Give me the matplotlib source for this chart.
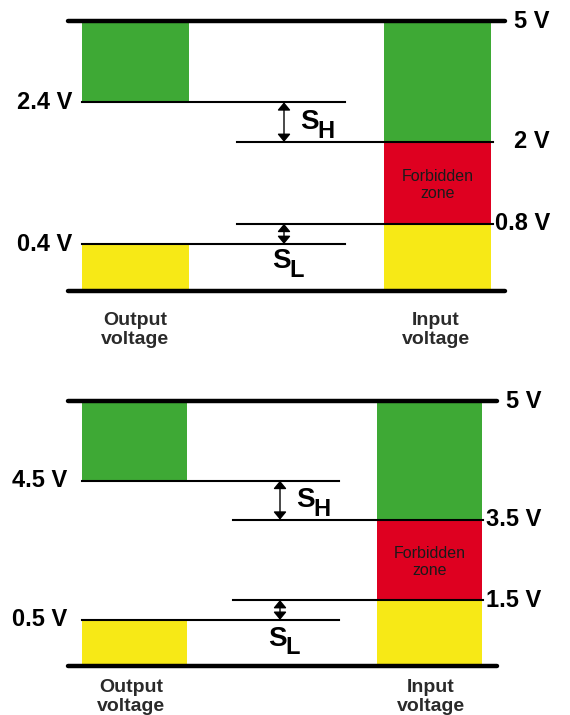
import matplotlib.pyplot as plt
import numpy as np

# -------------------------------
# Data: logic levels (volts) for the two families
# -------------------------------
supply = 5.0
out_low = [0.4, 0.5]     # max output LOW
in_low = [0.8, 1.5]      # max input LOW
in_high = [2.0, 3.5]     # min input HIGH
out_high = [2.4, 4.5]    # min output HIGH

col_labels = ["Output\nvoltage", "Input\nvoltage"]
zone_label = "Forbidden\nzone"

GREEN = "#3ea935"
RED = "#de0020"
YELLOW = "#f7e916"

DPI = 100
W, H = 570, 715

# schematic (not to scale) slot for each ordered level: 0, outL, inL, inH, outH, 5V
SLOTS = [0.0, 0.174, 0.249, 0.552, 0.699, 1.0]

# layout of each panel in pixels
panels = [
    dict(top=21, bottom=291, x0=68, x1=505, ob=(82, 189), ol=(82, 345),
         il=(237, 493), ib=(384, 491), arr_x=284, rlab=550, llab=72,
         ocx=135, icx=436, cap_dy=39, sl_dy=17),
    dict(top=401, bottom=666, x0=68, x1=497, ob=(82, 187), ol=(82, 339),
         il=(233, 483), ib=(377, 482), arr_x=280, rlab=541, llab=67,
         ocx=131, icx=431, cap_dy=31, sl_dy=19),
]


def px(v):
    """pixels -> points"""
    return v * 72 / DPI


def vlabel(v):
    return f"{v:g} V"


plt.rcParams['font.family'] = ['Liberation Sans', 'DejaVu Sans']
fig = plt.figure(figsize=(W / DPI, H / DPI), dpi=DPI)

for i, p in enumerate(panels):
    levels = [0.0, out_low[i], in_low[i], in_high[i], out_high[i], supply]
    fwd = lambda v, lv=levels: np.interp(v, lv, SLOTS)
    inv = lambda s, lv=levels: np.interp(s, SLOTS, lv)

    ax = fig.add_axes([0, 1 - p["bottom"] / H, 1, (p["bottom"] - p["top"]) / H])
    ax.set_yscale("function", functions=(fwd, inv))
    ax.set_xlim(0, W)
    ax.set_ylim(0, supply)
    ax.axis("off")

    # output bands
    ow = p["ob"][1] - p["ob"][0]
    ax.bar(p["ob"][0], supply - out_high[i], bottom=out_high[i], width=ow,
           align="edge", color=GREEN, lw=0)
    ax.bar(p["ob"][0], out_low[i], bottom=0, width=ow, align="edge",
           color=YELLOW, lw=0)

    # input bands
    iw = p["ib"][1] - p["ib"][0]
    ax.bar(p["ib"][0], supply - in_high[i], bottom=in_high[i], width=iw,
           align="edge", color=GREEN, lw=0)
    ax.bar(p["ib"][0], in_high[i] - in_low[i], bottom=in_low[i], width=iw,
           align="edge", color=RED, lw=0)
    ax.bar(p["ib"][0], in_low[i], bottom=0, width=iw, align="edge",
           color=YELLOW, lw=0)

    # rails
    for y in (0.0, supply):
        ax.plot([p["x0"], p["x1"]], [y, y], color="black", lw=3.2,
                solid_capstyle="round", clip_on=False, zorder=5)

    # level lines
    for y in (out_high[i], out_low[i]):
        ax.plot(p["ol"], [y, y], color="black", lw=1.5, clip_on=False, zorder=4)
    for y in (in_high[i], in_low[i]):
        ax.plot(p["il"], [y, y], color="black", lw=1.5, clip_on=False, zorder=4)

    # noise margin arrows
    arrow = dict(arrowstyle="<|-|>,head_length=0.34,head_width=0.28",
                 color="black", lw=1.0, shrinkA=0, shrinkB=0,
                 mutation_scale=14)
    ax.annotate("", xy=(p["arr_x"], out_high[i]), xytext=(p["arr_x"], in_high[i]),
                arrowprops=arrow, annotation_clip=False)
    ax.annotate("", xy=(p["arr_x"], in_low[i]), xytext=(p["arr_x"], out_low[i]),
                arrowprops=arrow, annotation_clip=False)

    # S_H label
    mid_h = (out_high[i] + in_high[i]) / 2
    ax.annotate("S", xy=(p["arr_x"] + 16, mid_h), xytext=(0, 0),
                textcoords="offset points", ha="left", va="center",
                fontsize=20, fontweight="bold", annotation_clip=False)
    ax.annotate("H", xy=(p["arr_x"] + 33, mid_h), xytext=(0, -px(9)),
                textcoords="offset points", ha="left", va="center",
                fontsize=17, fontweight="bold", annotation_clip=False)

    # S_L label
    ax.annotate("S", xy=(p["arr_x"] - 12, out_low[i]), xytext=(0, -px(p["sl_dy"])),
                textcoords="offset points", ha="left", va="center",
                fontsize=20, fontweight="bold", annotation_clip=False)
    ax.annotate("L", xy=(p["arr_x"] + 5, out_low[i]), xytext=(0, -px(p["sl_dy"] + 9)),
                textcoords="offset points", ha="left", va="center",
                fontsize=17, fontweight="bold", annotation_clip=False)

    # voltage labels
    for y in (supply, in_high[i], in_low[i]):
        ax.annotate(vlabel(y), xy=(p["rlab"], y), ha="right", va="center",
                    fontsize=17, fontweight="bold", annotation_clip=False)
    for y in (out_high[i], out_low[i]):
        ax.annotate(vlabel(y), xy=(p["llab"], y), ha="right", va="center",
                    fontsize=17, fontweight="bold", annotation_clip=False)

    # forbidden zone text
    ax.annotate(zone_label, xy=((p["ib"][0] + p["ib"][1]) / 2,
                                (in_low[i] + in_high[i]) / 2),
                xytext=(0, -px(2)), textcoords="offset points",
                ha="center", va="center", fontsize=11.5, color="#1a1a1a",
                linespacing=1.2, annotation_clip=False)

    # column captions
    for cx, txt in zip((p["ocx"], p["icx"]), col_labels):
        ax.annotate(txt, xy=(cx, 0), xytext=(0, -px(p["cap_dy"])),
                    textcoords="offset points", ha="center", va="center",
                    fontsize=14, fontweight="bold", color="#2a2a2a",
                    linespacing=1.1, annotation_clip=False)

fig.savefig("out.png", dpi=DPI)
